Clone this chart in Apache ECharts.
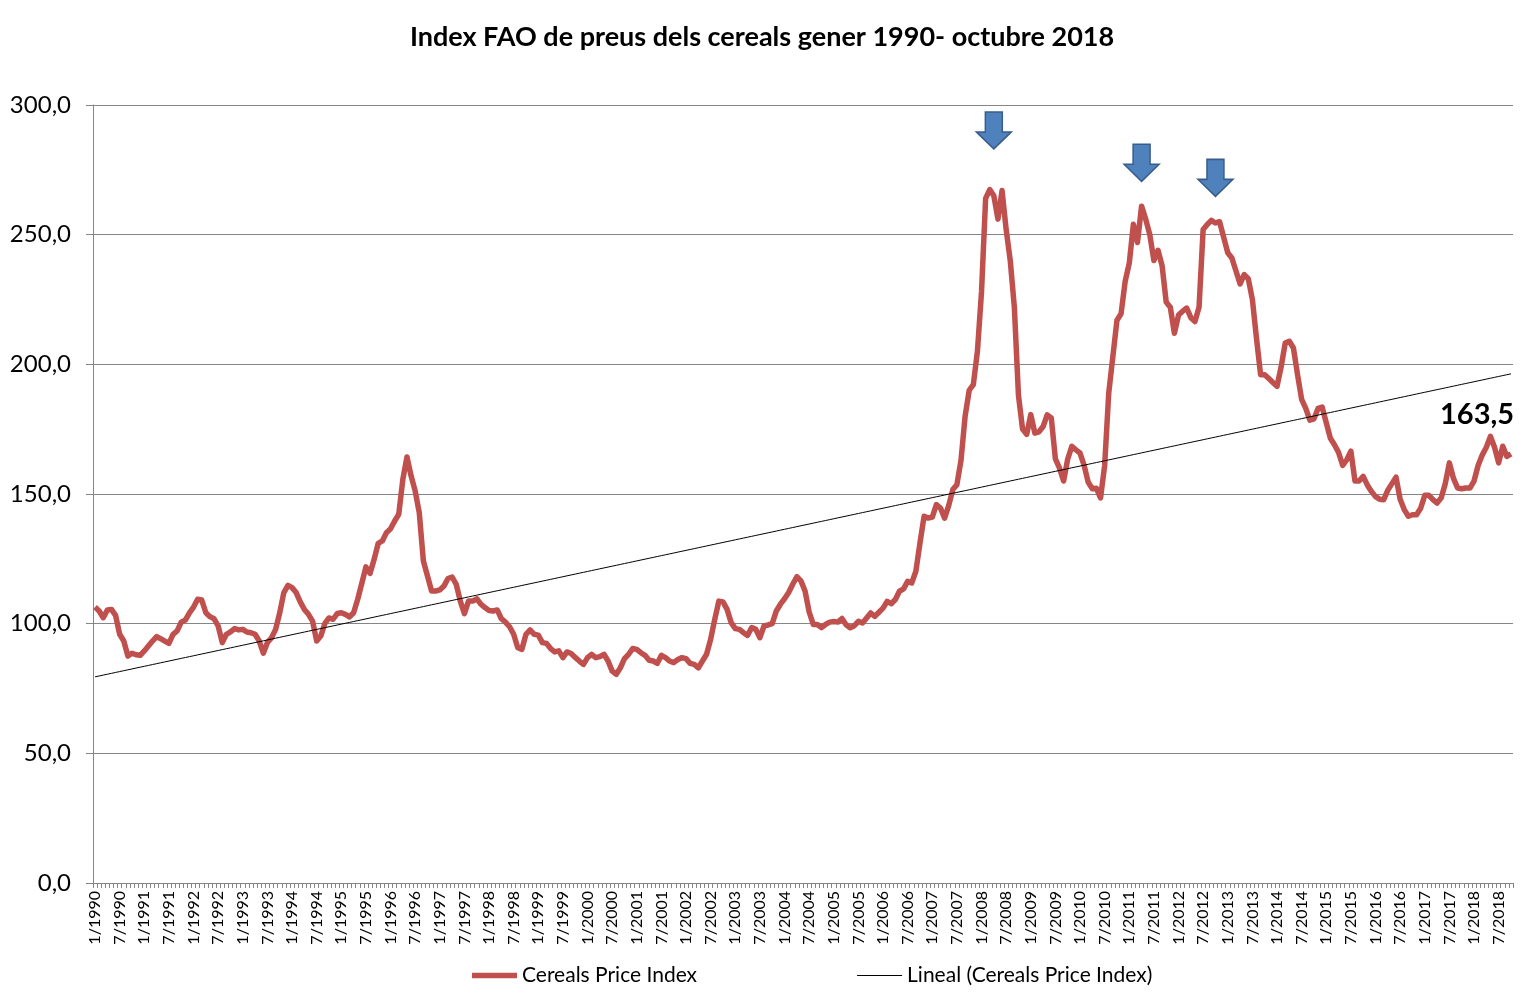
<!DOCTYPE html>
<html>
<head>
<meta charset="utf-8">
<script src="https://cdn.jsdelivr.net/npm/echarts@6/dist/echarts.min.js"></script>
<style>
html,body{margin:0;padding:0;background:#fff;}
#chart{width:1524px;height:995px;}
</style>
</head>
<body>
<div id="chart"></div>
<script>
// ---- Data ----
const startYear = 1990;
const endYear = 2018;
const endMonth = 10; // October 2018

const values1990 = [106.4,104.9,102.3,105.3,105.5,103.2,95.9,93.3,87.5,88.6,88.0,87.8];
const values1991 = [89.5,91.4,93.3,95.0,94.2,93.3,92.4,95.9,97.2,100.6,101.4,104.2];
const values1992 = [106.4,109.4,109.1,104.2,102.7,101.9,99.1,92.7,95.9,96.8,98.1,97.6];
const values1993 = [97.8,96.8,96.5,95.9,93.3,88.6,92.7,94.6,97.8,104.2,112.0,114.8];
const values1994 = [113.9,112.0,108.4,105.5,103.6,101.0,93.3,95.2,100.1,102.2,101.7,103.9];
const values1995 = [104.2,103.6,102.6,104.2,109.4,115.6,121.9,119.4,124.8,131.0,131.9,135.1];
const values1996 = [136.6,139.6,142.2,155.7,164.3,157.0,151.2,142.8,124.2,118.4,112.6,112.6];
const values1997 = [113.0,114.5,117.4,118.0,115.2,108.7,103.9,108.7,108.7,109.6,107.5,106.2];
const values1998 = [105.1,104.9,105.3,101.9,100.6,98.8,95.9,90.7,90.1,95.9,97.6,95.9];
const values1999 = [95.6,92.7,92.4,90.4,89.1,89.5,86.9,89.1,88.5,87.0,85.6,84.3];
const values2000 = [86.9,88.2,86.9,87.3,88.2,85.6,81.7,80.5,83.0,86.5,88.2,90.4];
const values2001 = [90.1,88.8,87.8,85.9,85.6,84.7,87.8,86.9,85.6,85.0,86.2,86.9];
const values2002 = [86.5,84.7,84.3,83.0,85.6,88.2,94.0,101.7,108.7,108.4,105.5,100.4];
const values2003 = [98.1,97.8,96.5,95.5,98.5,97.8,94.6,99.1,99.5,100.0,104.9,107.5];
const values2004 = [109.6,112.0,115.2,118.1,116.5,112.6,104.5,99.7,99.7,98.5,99.7,100.6];
const values2005 = [100.8,100.6,102.0,99.6,98.4,99.2,100.9,100.3,102.2,104.1,102.8,104.4];
const values2006 = [106.0,108.6,107.7,109.3,112.5,113.4,116.3,115.7,120.2,131.1,141.4,140.7];
const values2007 = [141.1,145.9,144.6,140.7,145.5,151.7,153.6,163.0,180.0,190.0,192.2,205.0];
const values2008 = [228.0,264.0,267.4,265.0,256.0,267.0,252.0,240.0,222.0,188.0,175.0,173.0];
const values2009 = [180.6,173.5,174.0,176.0,180.5,179.3,163.5,160.0,155.0,163.5,168.4,167.0];
const values2010 = [165.8,161.0,154.5,152.0,152.2,148.5,161.0,189.0,203.0,217.0,219.5,232.0];
const values2011 = [239.0,254.0,247.0,261.0,256.0,250.0,240.0,244.0,238.0,224.0,222.0,212.0];
const values2012 = [219.0,220.5,221.7,218.0,216.5,222.0,252.0,253.9,255.5,254.5,255.0,249.0];
const values2013 = [243.0,241.0,236.0,231.0,234.6,233.0,225.0,210.0,196.0,196.0,194.5,193.0];
const values2014 = [191.5,199.0,208.2,208.9,206.3,196.0,186.5,183.0,178.5,179.0,183.0,183.5];
const values2015 = [177.5,171.5,169.0,166.0,161.0,163.2,166.5,155.0,155.0,156.8,153.5,151.0];
const values2016 = [149.0,148.0,147.8,151.5,154.0,156.5,148.0,144.0,141.4,142.0,142.0,144.5];
const values2017 = [149.5,149.5,147.8,146.5,148.5,154.0,162.0,156.0,152.3,152.0,152.3,152.3];
const values2018 = [155.0,161.0,165.0,168.0,172.2,168.0,162.0,168.4,164.5,165.5];

const seriesName = 'Cereals Price Index';
const trendName = 'Lineal (Cereals Price Index)';
const titleText = 'Index FAO de preus dels cereals gener 1990- octubre 2018';
const lastLabelText = '163,5';
const yTicks = [0, 50, 100, 150, 200, 250, 300];

// arrow annotations: [category index, value]
const arrowMarks = [[219.3, 290.2], [255.4, 277.7], [272.6, 271.9]];

// ---- Build ----
const categories = [];
for (let y = startYear; y <= endYear; y++) {
  const last = (y === endYear) ? endMonth : 12;
  for (let m = 1; m <= last; m++) categories.push(m + '/' + y);
}
const values = [].concat(values1990, values1991, values1992, values1993, values1994,
  values1995, values1996, values1997, values1998, values1999, values2000, values2001,
  values2002, values2003, values2004, values2005, values2006, values2007, values2008,
  values2009, values2010, values2011, values2012, values2013, values2014, values2015,
  values2016, values2017, values2018);

// linear trend (least squares), as Excel's "Lineal" trendline
const n = values.length;
let sx = 0, sy = 0, sxx = 0, sxy = 0;
for (let i = 0; i < n; i++) { sx += i; sy += values[i]; sxx += i * i; sxy += i * values[i]; }
const slope = (n * sxy - sx * sy) / (n * sxx - sx * sx);
const intercept = (sy - slope * sx) / n;
const trend = values.map((_, i) => +(intercept + slope * i).toFixed(3));

const arrowPath = 'path://M9,0 L26,0 L26,20 L35,20 L17.5,37 L0,20 L9,20 Z';

const FONT = 'Lato, "Open Sans", sans-serif';
const chart = echarts.init(document.getElementById('chart'));
chart.setOption({
  animation: false,
  backgroundColor: '#fff',
  title: {
    text: titleText,
    left: 'center',
    top: 19,
    textStyle: { fontFamily: FONT, fontSize: 27, fontWeight: 'bold', color: '#000' }
  },
  grid: { left: 93, right: 11, top: 105, bottom: 112, containLabel: false },
  legend: {
    left: 467,
    top: 960,
    itemGap: 160,
    itemWidth: 45,
    itemHeight: 10,
    symbolKeepAspect: true,
    textStyle: { fontFamily: FONT, fontSize: 21, color: '#000' },
    data: [
      { name: seriesName, icon: 'path://M0,0 L45,0 L45,5.5 L0,5.5 Z', itemStyle: { color: '#c0504d' } },
      { name: trendName, icon: 'path://M0,0 L45,0 L45,1 L0,1 Z', itemStyle: { color: '#000' } }
    ]
  },
  xAxis: {
    type: 'category',
    data: categories,
    boundaryGap: true,
    axisLine: { lineStyle: { color: '#868686', width: 1 } },
    axisTick: { show: true, interval: 0, length: 5, lineStyle: { color: '#868686' } },
    axisLabel: {
      interval: 5,
      rotate: 90,
      fontFamily: FONT,
      fontSize: 16,
      color: '#000',
      margin: 8
    },
    splitLine: { show: false }
  },
  yAxis: {
    type: 'value',
    min: yTicks[0],
    max: yTicks[yTicks.length - 1],
    interval: 50,
    axisLine: { show: true, lineStyle: { color: '#868686' } },
    axisTick: { show: true, length: 7, lineStyle: { color: '#868686' } },
    axisLabel: {
      fontFamily: FONT,
      fontSize: 24,
      color: '#000',
      margin: 22,
      formatter: v => v.toFixed(1).replace('.', ',')
    },
    splitLine: { show: true, lineStyle: { color: '#868686', width: 1 } }
  },
  series: [
    {
      name: seriesName,
      type: 'line',
      data: values,
      symbol: 'none',
      lineStyle: { color: '#c0504d', width: 5.5, join: 'round' },
      itemStyle: { color: '#c0504d' },
      z: 3,
      markPoint: {
        symbol: arrowPath,
        symbolSize: [35, 37],
        silent: true,
        label: { show: false },
        itemStyle: { color: '#4f81bd', borderColor: '#385d8a', borderWidth: 1.5 },
        data: arrowMarks.map(a => ({ coord: a }))
      }
    },
    {
      name: trendName,
      type: 'line',
      data: trend,
      symbol: 'none',
      lineStyle: { color: '#000', width: 1 },
      itemStyle: { color: '#000' },
      z: 4
    }
  ],
  graphic: [{
    type: 'text',
    left: 1440,
    top: 400,
    style: { text: lastLabelText, font: 'bold 29px ' + FONT, fill: '#000' }
  }]
});
</script>
</body>
</html>
